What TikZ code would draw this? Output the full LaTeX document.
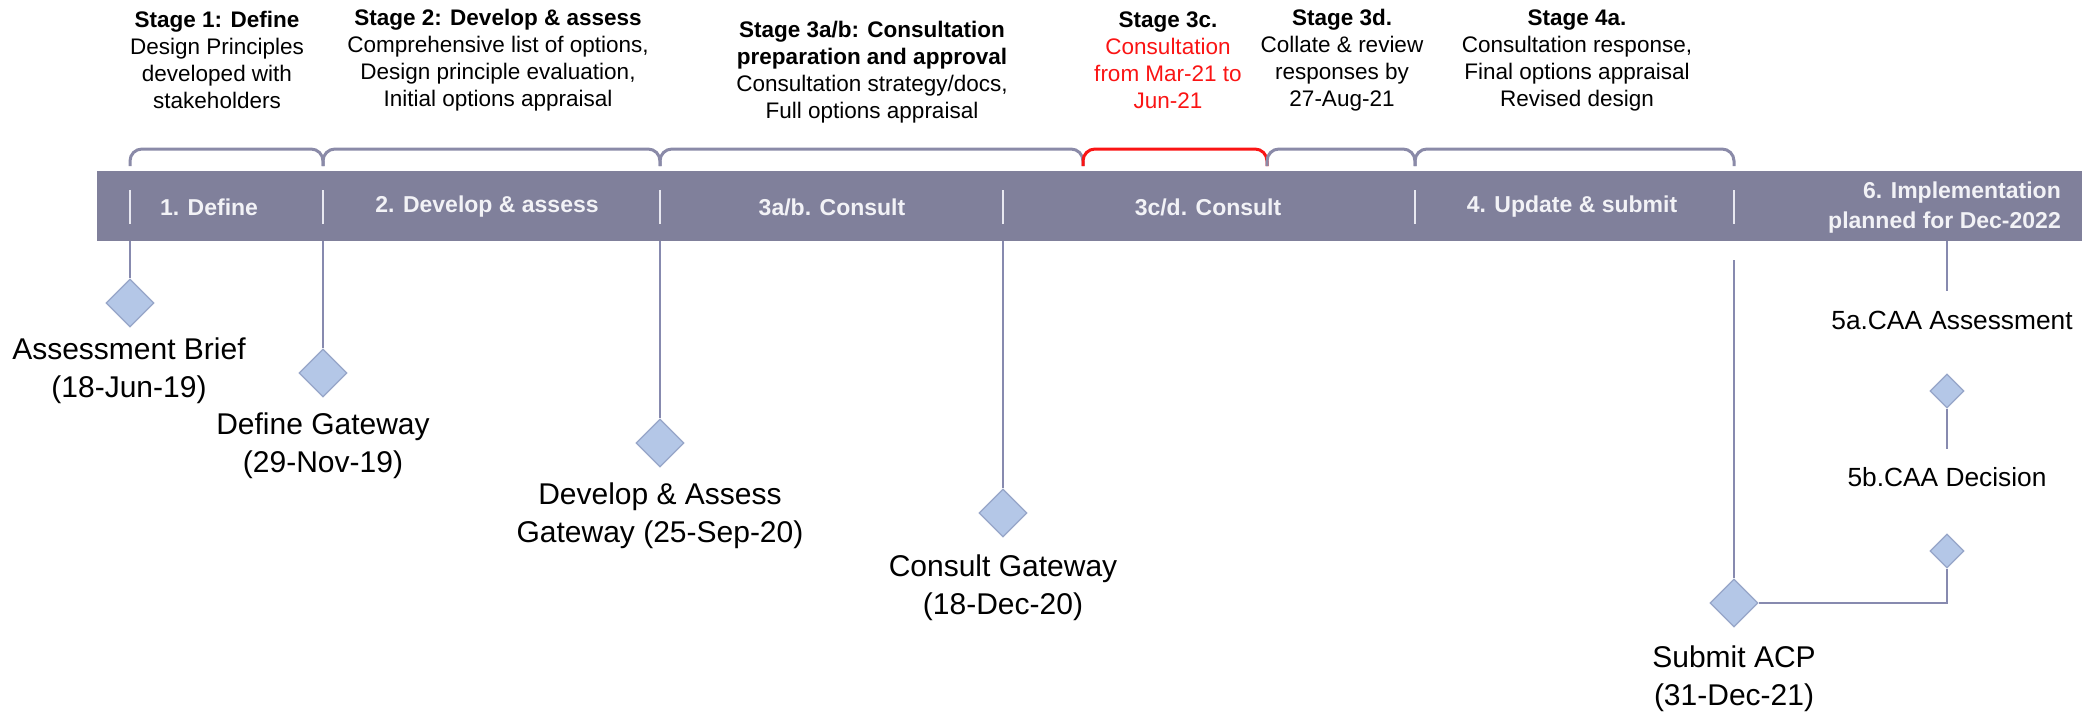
\documentclass[tikz,border=0pt]{standalone}
\usepackage{fontspec}
\setmainfont{Liberation Sans}
\usetikzlibrary{shapes.geometric}
\definecolor{barcol}{RGB}{128,128,155}
\definecolor{barfg}{RGB}{242,242,246}
\definecolor{brkcol}{RGB}{138,138,168}
\definecolor{stemcol}{RGB}{135,138,175}
\definecolor{gemfill}{RGB}{180,199,231}
\definecolor{gemline}{RGB}{150,165,200}
\definecolor{sepcol}{RGB}{232,232,240}
\definecolor{redc}{RGB}{250,20,20}
\begin{document}
\begin{tikzpicture}[x=1pt,y=-1pt,
  hdr/.style={align=center,font=\fontsize{22.5}{27}\selectfont,inner sep=0},
  barlab/.style={font=\fontsize{23}{30}\selectfont\bfseries,text=barfg,inner sep=0},
  lab/.style={align=center,font=\fontsize{30}{38}\selectfont,inner sep=0},
  slab/.style={font=\fontsize{26.3}{30}\selectfont,inner sep=0},
  gem/.style={diamond,draw=gemline,fill=gemfill,line width=1.2pt,inner sep=0,minimum width=48pt,minimum height=48pt,aspect=1},
  sgem/.style={gem,minimum width=34pt,minimum height=34pt},
  stem/.style={draw=stemcol,line width=2.5pt},
  brk/.style={draw=brkcol,line width=3pt,rounded corners=12pt},
  sep/.style={draw=sepcol,line width=2pt}]
\useasboundingbox (0,0) rectangle (2100,713);
% bar
\node[fill=barcol,minimum width=1985pt,minimum height=70pt,inner sep=0,anchor=north west] (bar) at (97,171) {};
% separators
\foreach \x in {130,323,660,1003,1415,1734} \draw[sep] (\x,190) -- (\x,224);
% bar labels
\node[barlab] (b1) at (209,207) {1. Define};
\node[barlab] (b2) at (487,207) {2. Develop \& assess};
\node[barlab] (b3) at (832,207) {3a/b. Consult};
\node[barlab] (b4) at (1208,207) {3c/d. Consult};
\node[barlab] (b5) at (1572,207) {4. Update \& submit};
\node[barlab,align=right,anchor=east] (b6) at (2061,208) {6. Implementation\\planned for Dec-2022};
% brackets
\draw[brk] (130,166) -- (130,149) -- (323,149) -- (323,166);
\draw[brk] (323,166) -- (323,149) -- (660,149) -- (660,166);
\draw[brk] (660,166) -- (660,149) -- (1083,149) -- (1083,166);
\draw[brk,draw=redc] (1083,166) -- (1083,149) -- (1267,149) -- (1267,166);
\draw[brk] (1267,166) -- (1267,149) -- (1415,149) -- (1415,166);
\draw[brk] (1415,166) -- (1415,149) -- (1734,149) -- (1734,166);
% headers
\node[hdr] (h1) at (217,60) {\textbf{Stage 1: Define}\\Design Principles\\developed with\\stakeholders};
\node[hdr] (h2) at (498,60) {\textbf{Stage 2: Develop \& assess}\\Comprehensive list of options,\\Design principle evaluation,\\Initial options appraisal};
\node[hdr] (h3) at (872,72) {\textbf{Stage 3a/b: Consultation}\\\textbf{preparation and approval}\\Consultation strategy/docs,\\Full options appraisal};
\node[hdr] (h4) at (1168,60) {\textbf{Stage 3c.}\\\textcolor{redc}{Consultation}\\\textcolor{redc}{from Mar-21 to}\\\textcolor{redc}{Jun-21}};
\node[hdr] (h5) at (1342,60) {\textbf{Stage 3d.}\\Collate \& review\\responses by\\27-Aug-21};
\node[hdr] (h6) at (1577,60) {\textbf{Stage 4a.}\\Consultation response,\\Final options appraisal\\Revised design};
% milestones
\node[gem] (g1) at (130,303) {};
\node[gem] (g2) at (323,373) {};
\node[gem] (g3) at (660,443) {};
\node[gem] (g4) at (1003,513) {};
\node[gem] (g5) at (1734,603) {};
\node[sgem] (s1) at (1947,391) {};
\node[sgem] (s2) at (1947,551) {};
\node[lab] (l1) at (129,371) {Assessment Brief\\(18-Jun-19)};
\node[lab] (l2) at (323,446) {Define Gateway\\(29-Nov-19)};
\node[lab] (l3) at (660,516) {Develop \& Assess\\Gateway (25-Sep-20)};
\node[lab] (l4) at (1003,588) {Consult Gateway\\(18-Dec-20)};
\node[lab] (l5) at (1734,679) {Submit ACP\\(31-Dec-21)};
\node[slab] (l5a) at (1952,320) {5a.CAA Assessment};
\node[slab] (l5b) at (1947,477) {5b.CAA Decision};
% stems
\draw[stem] (g1.north |- bar.south) -- (g1.north);
\draw[stem] (g2.north |- bar.south) -- (g2.north);
\draw[stem] (g3.north |- bar.south) -- (g3.north);
\draw[stem] (g4.north |- bar.south) -- (g4.north);
\coordinate (c5) at (1734,260);
\draw[stem] (c5) -- (g5.north);
\coordinate (c5a) at (1947,291);
\draw[stem] (c5a |- bar.south) -- (c5a);
\coordinate (c5b) at (1947,449);
\draw[stem] (s1.south) -- (c5b);
\draw[stem] (g5.east) -| (s2.south);
\end{tikzpicture}
\end{document}
